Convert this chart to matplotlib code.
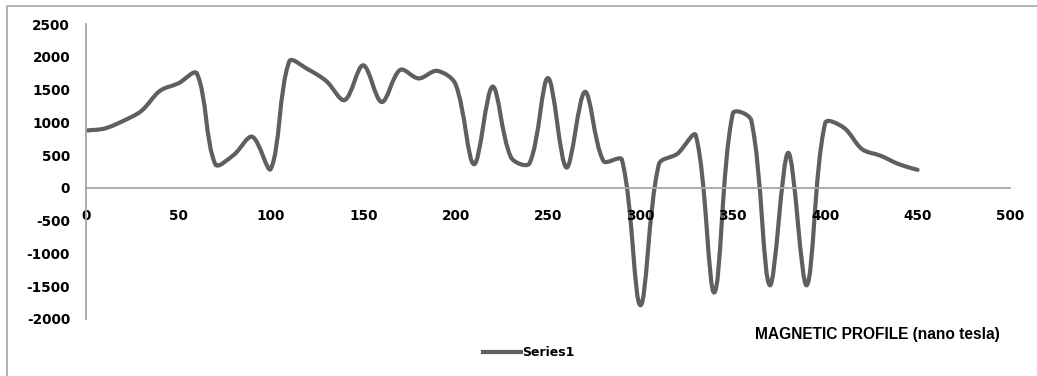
import matplotlib
matplotlib.use("Agg")
import matplotlib.pyplot as plt
from matplotlib.path import Path
from matplotlib.patches import PathPatch, Rectangle
from matplotlib.lines import Line2D
import numpy as np

# Survey distance along the profile and measured field
distance = [0, 10, 20, 30, 40, 50, 60, 70, 80, 90,
            100, 110, 120, 130, 140, 150, 160, 170, 180, 190,
            200, 210, 220, 230, 240, 250, 260, 270, 280, 290,
            300, 310, 320, 330, 340, 350, 360, 370, 380, 390,
            400, 410, 420, 430, 440, 450]
field_nt = [875, 905, 1020, 1175, 1480, 1595, 1745, 360, 505, 780,
            290, 1930, 1810, 1630, 1340, 1870, 1310, 1800, 1670, 1785,
            1580, 360, 1545, 465, 375, 1675, 310, 1465, 410, 430,
            -1790, 360, 520, 800, -1595, 1135, 1030, -1485, 535, -1485,
            990, 920, 590, 490, 360, 275]

x_ticks = [0, 50, 100, 150, 200, 250, 300, 350, 400, 450, 500]
y_ticks = [-2000, -1500, -1000, -500, 0, 500, 1000, 1500, 2000, 2500]
series_name = "Series1"
chart_title = "MAGNETIC PROFILE (nano tesla)"

W, H, DPI = 1037, 376, 100
fig = plt.figure(figsize=(W / DPI, H / DPI), dpi=DPI)
fig.patch.set_facecolor("white")

# outer chart frame
fig.patches.append(Rectangle((7 / W, -0.1), 1.2, (H - 6) / H + 0.1,
                             transform=fig.transFigure, fill=False,
                             edgecolor="#a6a6a6", linewidth=1.2))

ax = fig.add_axes([86 / W, (H - 319) / H, (1010 - 86) / W, (319 - 24) / H])
ax.set_xlim(0, 500)
ax.set_ylim(-2000, 2500)
ax.set_facecolor("none")


def smooth_path(xs, ys, k=1.0 / 3.0):
    """Bezier curve through the points, tangents scaled by chord length
    (computed in screen space so steep segments do not overshoot)."""
    pts = ax.transData.transform(np.column_stack([xs, ys]))
    n = len(pts)
    d = np.hypot(*np.diff(pts, axis=0).T)
    verts = [pts[0]]
    codes = [Path.MOVETO]
    for i in range(n - 1):
        p1, p2 = pts[i], pts[i + 1]
        if i > 0:
            t1 = pts[i + 1] - pts[i - 1]
            c1 = p1 + t1 * d[i] / (d[i - 1] + d[i]) * k
        else:
            c1 = p1 + (p2 - p1) * k
        if i + 2 < n:
            t2 = pts[i + 2] - pts[i]
            c2 = p2 - t2 * d[i] / (d[i] + d[i + 1]) * k
        else:
            c2 = p2 - (p2 - p1) * k
        verts += [c1, c2, p2]
        codes += [Path.CURVE4] * 3
    verts = ax.transData.inverted().transform(np.array(verts))
    return Path(verts, codes)


line_color = "#5f5f5f"
ax.add_patch(PathPatch(smooth_path(np.array(distance, float),
                                   np.array(field_nt, float)),
                       facecolor="none", edgecolor=line_color, linewidth=3.0,
                       capstyle="round", joinstyle="round"))

for s in ("top", "right"):
    ax.spines[s].set_visible(False)
ax.spines["bottom"].set_position(("data", 0))
for s in ("left", "bottom"):
    ax.spines[s].set_color("#a6a6a6")
    ax.spines[s].set_linewidth(1.3)

ax.set_xticks(x_ticks)
ax.set_yticks(y_ticks)
ax.set_xticklabels([str(v) for v in x_ticks])
ax.set_yticklabels([str(v) for v in y_ticks])
ax.tick_params(axis="both", length=0)
ax.tick_params(axis="x", pad=15)
ax.tick_params(axis="y", pad=11.5)
for lab in ax.get_xticklabels() + ax.get_yticklabels():
    lab.set_fontfamily("DejaVu Sans")
    lab.set_fontweight("bold")
    lab.set_fontsize(9.8)
    lab.set_color("black")

# legend
handle = Line2D([], [], color=line_color, linewidth=3.0)
fig.legend([handle], [series_name], loc="center",
           bbox_to_anchor=(529 / W, 1 - 353 / H), frameon=False,
           handlelength=3.0, handletextpad=0.1,
           prop={"family": "DejaVu Sans", "weight": "bold", "size": 9})

fig.text(877 / W, 1 - 334 / H, chart_title, ha="center", va="center",
         fontfamily="Liberation Sans", fontweight="bold", fontsize=11.2)

fig.savefig("out.png", dpi=DPI, facecolor="white")
